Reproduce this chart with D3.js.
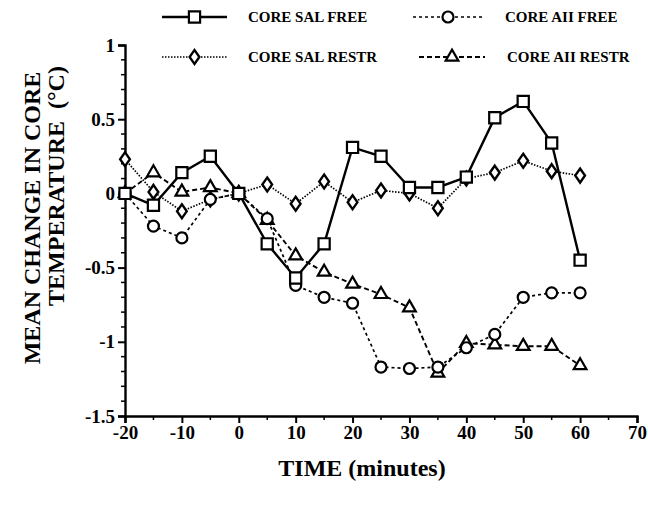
<!DOCTYPE html>
<html lang="en">
<head>
    <meta charset="UTF-8">
    <title>Mean change in core temperature</title>
    <script src="https://cdn.jsdelivr.net/npm/d3@7"></script>
    <style>
        body {
            margin: 0;
            background: #fff;
        }

        svg text {
            font-family: "Liberation Serif", "DejaVu Serif", serif;
            font-weight: bold;
            fill: #000;
        }

        .tick-label {
            font-size: 19px;
        }

        .legend-label {
            font-size: 15px;
        }

        .axis-title {
            font-size: 24px;
        }
    </style>
</head>
<body>
<div id="chart"></div>
<script>
    // time points (minutes)
    var times = [-20, -15, -10, -5, 0, 5, 10, 15, 20, 25, 30, 35, 40, 45, 50, 55, 60];

    var salFree = [0, -0.08, 0.14, 0.25, 0, -0.34, -0.57, -0.34, 0.31, 0.25, 0.04, 0.04, 0.11, 0.51, 0.62, 0.34, -0.45];
    var aiiFree = [0, -0.22, -0.30, -0.04, 0, -0.17, -0.62, -0.70, -0.74, -1.17, -1.18, -1.17, -1.04, -0.95, -0.70, -0.67, -0.67];
    var salRestr = [0.23, 0.01, -0.12, -0.04, 0, 0.06, -0.07, 0.08, -0.06, 0.02, 0.0, -0.10, 0.10, 0.14, 0.22, 0.15, 0.12];
    var aiiRestr = [0, 0.14, 0.01, 0.04, 0, -0.18, -0.42, -0.53, -0.61, -0.68, -0.77, -1.21, -1.01, -1.02, -1.03, -1.03, -1.16];

    var xTicks = [-20, -10, 0, 10, 20, 30, 40, 50, 60, 70];
    var yTicks = [1, 0.5, 0, -0.5, -1, -1.5];

    var seriesNames = ['CORE SAL FREE', 'CORE AII FREE', 'CORE SAL RESTR', 'CORE AII RESTR'];

    var width = 648, height = 507;
    var plotLeft = 125, plotRight = 637, plotTop = 45, plotBottom = 416;

    var svg = d3.select('#chart').append('svg')
        .attr('width', width)
        .attr('height', height);

    var x = d3.scaleLinear().domain([-20, 70]).range([plotLeft, plotRight]);
    var y = d3.scaleLinear().domain([-1.5, 1]).range([plotBottom, plotTop]);

    // axes (plain hyphen minus like the original)
    var xAxis = d3.axisBottom(x).tickValues(xTicks).tickSize(7).tickPadding(3)
        .tickFormat(function (d) { return String(d); });
    var yAxis = d3.axisLeft(y).tickValues(yTicks).tickSize(7).tickPadding(3)
        .tickFormat(function (d) { return String(d); });

    var gx = svg.append('g').attr('transform', 'translate(0,' + plotBottom + ')').call(xAxis);
    var gy = svg.append('g').attr('transform', 'translate(' + plotLeft + ',0)').call(yAxis);

    // minor ticks
    gx.selectAll('.minor')
        .data(d3.range(-15, 70, 10))
        .enter().append('line')
        .attr('x1', function (d) { return x(d); })
        .attr('x2', function (d) { return x(d); })
        .attr('y1', 0).attr('y2', 4)
        .attr('stroke', '#000').attr('stroke-width', 1.5);

    gy.selectAll('.minor')
        .data(d3.range(-14, 10).map(function (d) { return d / 10; }).filter(function (d) { return Math.round(d * 10) % 5 !== 0; }))
        .enter().append('line')
        .attr('y1', function (d) { return y(d); })
        .attr('y2', function (d) { return y(d); })
        .attr('x1', 0).attr('x2', -4)
        .attr('stroke', '#000').attr('stroke-width', 1.5);

    [gx, gy].forEach(function (g) {
        g.select('.domain').attr('stroke', '#000').attr('stroke-width', 2.4);
        g.selectAll('.tick line').attr('stroke', '#000').attr('stroke-width', 2);
        g.selectAll('.tick text').attr('class', 'tick-label').attr('font-size', null).attr('font-family', null);
    });

    // axis titles
    svg.append('text')
        .attr('class', 'axis-title')
        .attr('x', 362)
        .attr('y', 476)
        .attr('text-anchor', 'middle')
        .text('TIME (minutes)');

    svg.append('text')
        .attr('class', 'axis-title')
        .attr('transform', 'translate(40,218) rotate(-90)')
        .attr('text-anchor', 'middle')
        .text('MEAN CHANGE IN CORE');

    svg.append('text')
        .attr('class', 'axis-title')
        .attr('transform', 'translate(64,186) rotate(-90)')
        .attr('text-anchor', 'middle')
        .attr('xml:space', 'preserve')
        .text('TEMPERATURE  (\u00B0C)');

    // series styles
    var styles = [
        {values: salFree, dash: null, width: 2.4, marker: 'square'},
        {values: aiiFree, dash: '3,3', width: 1.7, marker: 'circle'},
        {values: salRestr, dash: '1.5,1.5', width: 1.7, marker: 'diamond'},
        {values: aiiRestr, dash: '5,3', width: 1.9, marker: 'triangle'}
    ];

    var symbols = {
        square: d3.symbol().type(d3.symbolSquare).size(125),
        circle: d3.symbol().type(d3.symbolCircle).size(95),
        diamond: d3.symbol().type(d3.symbolDiamond).size(62),
        triangle: d3.symbol().type(d3.symbolTriangle).size(70)
    };

    var line = d3.line()
        .x(function (d) { return x(d[0]); })
        .y(function (d) { return y(d[1]); });

    function pairs(vals) {
        return times.map(function (t, i) { return [t, vals[i]]; });
    }

    function drawMarker(g, type, px, py) {
        g.append('path')
            .attr('d', symbols[type]())
            .attr('transform', 'translate(' + px + ',' + py + ')' + (type === 'diamond' ? ' scale(1.15,0.95)' : ''))
            .attr('fill', '#fff')
            .attr('stroke', '#000')
            .attr('stroke-width', 2.2);
    }

    // draw order: restr series below, sal free on top
    [3, 2, 1, 0].forEach(function (k) {
        var s = styles[k];
        var g = svg.append('g');
        g.append('path')
            .datum(pairs(s.values))
            .attr('d', line)
            .attr('fill', 'none')
            .attr('stroke', '#000')
            .attr('stroke-width', s.width)
            .attr('stroke-dasharray', s.dash);
        pairs(s.values).forEach(function (p) {
            drawMarker(g, s.marker, x(p[0]), y(p[1]));
        });
    });

    // legend
    var legendPos = [
        {x1: 162, x2: 227, tx: 248, y: 17},
        {x1: 413, x2: 483, tx: 505, y: 17},
        {x1: 162, x2: 227, tx: 248, y: 57},
        {x1: 419, x2: 485, tx: 507, y: 57}
    ];

    legendPos.forEach(function (p, k) {
        var s = styles[k];
        var g = svg.append('g');
        g.append('line')
            .attr('x1', p.x1).attr('x2', p.x2)
            .attr('y1', p.y).attr('y2', p.y)
            .attr('stroke', '#000')
            .attr('stroke-width', s.width)
            .attr('stroke-dasharray', s.dash);
        drawMarker(g, s.marker, (p.x1 + p.x2) / 2, p.y);
        g.append('text')
            .attr('class', 'legend-label')
            .attr('x', p.tx)
            .attr('y', p.y + 5)
            .text(seriesNames[k]);
    });
</script>
</body>
</html>
